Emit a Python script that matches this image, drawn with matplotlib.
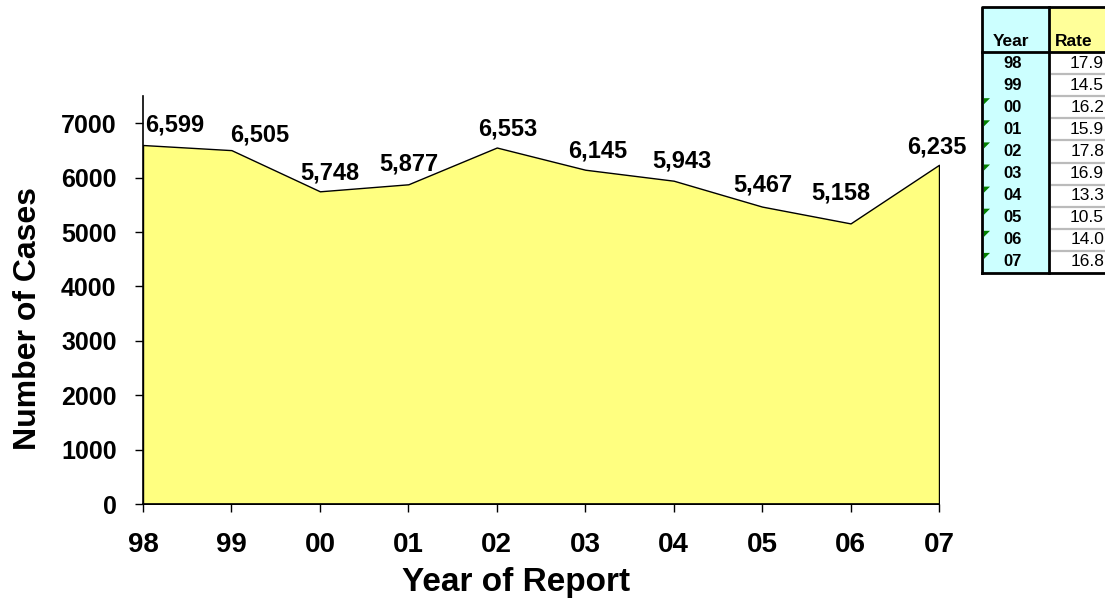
import matplotlib
matplotlib.use("Agg")
import matplotlib.pyplot as plt
from matplotlib.patches import Rectangle, Polygon

plt.rcParams['font.family'] = ['Liberation Sans', 'DejaVu Sans']

# ---- data ----
years = ["98", "99", "00", "01", "02", "03", "04", "05", "06", "07"]
cases = [6599, 6505, 5748, 5877, 6553, 6145, 5943, 5467, 5158, 6235]
rates = ["17.9", "14.5", "16.2", "15.9", "17.8", "16.9", "13.3", "10.5", "14.0", "16.8"]
yticks = [0, 1000, 2000, 3000, 4000, 5000, 6000, 7000]

# label placement offsets (pixels), style only
label_dx = [32, 28, 10, 0, 11, 12, 8, 1, -10, -2]
label_dy = [20, 15, 18, 20, 19, 19, 20, 22, 30, 18]

W, H = 1105, 611
fig = plt.figure(figsize=(W / 100, H / 100), dpi=100)
fig.patch.set_facecolor('white')

ax = fig.add_axes([143 / W, (H - 504) / H, (939 - 143) / W, (504 - 96) / H])
x = list(range(len(years)))
ax.fill_between(x, cases, 0, facecolor='#FFFF80', edgecolor='black', linewidth=1.0, zorder=2)
ax.set_xlim(0, len(years) - 1)
ax.set_ylim(0, 7500)
ax.set_xticks(x)
ax.set_xticklabels(years, fontsize=20, fontweight='bold')
ax.set_yticks(yticks)
ax.set_yticklabels([str(v) for v in yticks], fontsize=18, fontweight='bold')
ax.tick_params(axis='y', direction='out', length=6, width=1, pad=13)
ax.tick_params(axis='x', direction='out', length=6, width=1, pad=14)
for s in ['top', 'right']:
    ax.spines[s].set_visible(False)
for s in ['left', 'bottom']:
    ax.spines[s].set_linewidth(1.2)
    ax.spines[s].set_zorder(3)
ax.set_facecolor('none')

for i, v in enumerate(cases):
    ax.annotate(f"{v:,}", xy=(i, v), xytext=(label_dx[i], label_dy[i]),
                textcoords='offset pixels', ha='center', va='center',
                fontsize=17, fontweight='bold', annotation_clip=False, zorder=5)

fig.text(516 / W, 1 - 583 / H, "Year of Report", ha='center', va='center',
         fontsize=24, fontweight='bold')
fig.text(28 / W, 1 - 318 / H, "Number of Cases", ha='center', va='center',
         rotation=90, fontsize=23, fontweight='bold')

# ---- table (pixel coordinates) ----
tax = fig.add_axes([0, 0, 1, 1])
tax.set_xlim(0, W)
tax.set_ylim(H, 0)
tax.axis('off')
tax.set_zorder(10)
tax.patch.set_visible(False)

L, M, R = 982, 1049, 1125
T, HB = 7, 52
rh = 22.1
B = HB + rh * len(years)

tax.add_patch(Rectangle((L, T), M - L, B - T, facecolor='#CCFFFF', edgecolor='none'))
tax.add_patch(Rectangle((M, T), R - M, HB - T, facecolor='#FFFF99', edgecolor='none'))
tax.add_patch(Rectangle((M, HB), R - M, B - HB, facecolor='white', edgecolor='none'))
for i in range(1, len(years)):
    yy = HB + rh * i
    tax.plot([M + 3, R], [yy, yy], color='#BBBBBB', lw=1.6)
tax.plot([L, L, R], [B, T, T], color='black', lw=2)
tax.plot([L, R], [B, B], color='black', lw=2)
tax.plot([M, M], [T, B], color='black', lw=2)
tax.plot([L, R], [HB, HB], color='black', lw=2)

tax.text((L + M) / 2 - 4, 41, "Year", ha='center', va='center', fontsize=12.5, fontweight='bold')
tax.text(M + 6, 41, "Rate", ha='left', va='center', fontsize=12.5, fontweight='bold')
for i, (yr, rt) in enumerate(zip(years, rates)):
    cy = HB + rh * (i + 0.5)
    tax.text((L + M) / 2 - 3, cy, yr, ha='center', va='center', fontsize=12, fontweight='bold')
    tax.text(1104, cy, rt, ha='right', va='center', fontsize=12.5)
    if i >= 2:
        ty = HB + rh * i + 2
        tax.add_patch(Polygon([[L + 2, ty], [L + 8, ty], [L + 2, ty + 6]],
                              closed=True, facecolor='#008000', edgecolor='none'))

fig.savefig("out.png", dpi=100)
